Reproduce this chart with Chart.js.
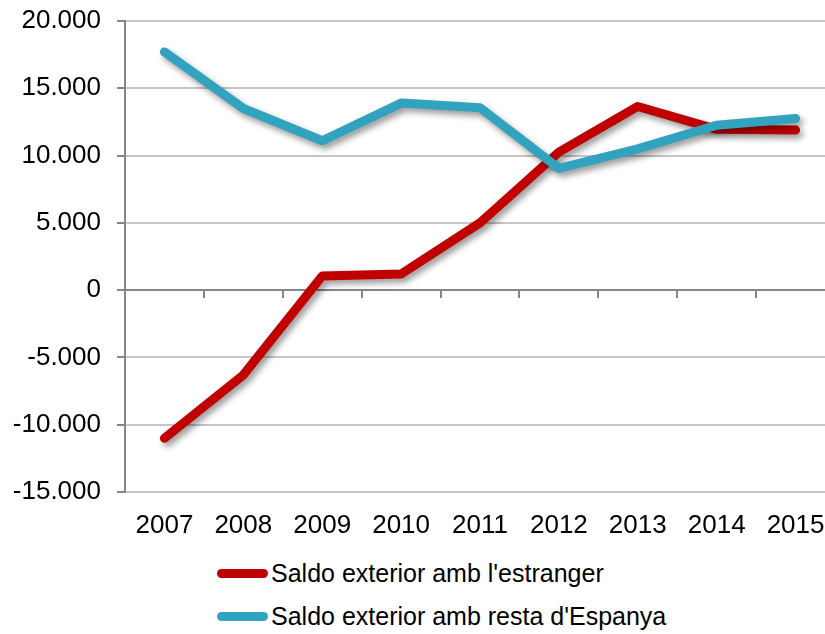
<!DOCTYPE html>
<html>
<head>
<meta charset="utf-8">
<script src="https://cdn.jsdelivr.net/npm/chart.js@4.4.1/dist/chart.umd.min.js"></script>
<style>
  html, body { margin: 0; padding: 0; background: #fff; overflow: hidden; }
  #wrap { position: relative; width: 825px; height: 634px; overflow: hidden; }
  #chart { position: absolute; left: 0; top: 0; }
  #legend { position: absolute; left: 217px; top: 552px; font-family: "Liberation Sans", Arial, sans-serif; font-size: 25px; color: #000; }
  .item { display: flex; align-items: center; height: 43px; white-space: nowrap; }
  .swatch { width: 51px; height: 9px; border-radius: 5px; margin-right: 3px; }
</style>
</head>
<body>
<div id="wrap">
  <canvas id="chart" width="840" height="545"></canvas>
  <div id="legend"></div>
</div>
<script>
const years = ["2007", "2008", "2009", "2010", "2011", "2012", "2013", "2014", "2015"];
const saldoEstranger = [-11000, -6300, 1050, 1200, 5000, 10250, 13650, 11950, 11900];
const saldoEspanya = [17700, 13500, 11100, 13900, 13550, 9050, 10500, 12250, 12750];
const seriesNames = ["Saldo exterior amb l'estranger", "Saldo exterior amb resta d'Espanya"];
const seriesColors = ["#c00000", "#31a3bf"];

function formatThousands(v) {
    const s = Math.abs(v).toString().replace(/\B(?=(\d{3})+(?!\d))/g, ".");
    return (v < 0 ? "-" : "") + s;
}

// soft drop shadow under the lines, like the original
const shadowPlugin = {
    id: "lineShadow",
    beforeDatasetDraw(chart) {
        const ctx = chart.ctx;
        ctx.save();
        ctx.shadowColor = "rgba(0,0,0,0.4)";
        ctx.shadowBlur = 6;
        ctx.shadowOffsetX = 3;
        ctx.shadowOffsetY = 4;
    },
    afterDatasetDraw(chart) {
        chart.ctx.restore();
    }
};

const font = { family: "'Liberation Sans', Arial, sans-serif", size: 26 };

new Chart(document.getElementById("chart"), {
    type: "line",
    data: {
        labels: years,
        datasets: [{
            label: seriesNames[0],
            data: saldoEstranger,
            borderColor: seriesColors[0],
            borderWidth: 9,
            order: 2
        }, {
            label: seriesNames[1],
            data: saldoEspanya,
            borderColor: seriesColors[1],
            borderWidth: 9,
            order: 1
        }]
    },
    options: {
        responsive: false,
        animation: false,
        events: [],
        layout: { padding: { top: 21, right: 5, left: 0, bottom: 0 } },
        elements: {
            point: { radius: 0 },
            line: { tension: 0, borderJoinStyle: "round", borderCapStyle: "round" }
        },
        plugins: {
            legend: { display: false },
            tooltip: { enabled: false }
        },
        scales: {
            x: {
                offset: true,
                grid: { display: false, offset: true },
                border: { display: false },
                ticks: { color: "#000", font: font, padding: 10, maxRotation: 0, autoSkip: false },
                afterFit(scale) { scale.height = 53; }
            },
            x2: {
                type: "category",
                position: { y: 0 },
                offset: true,
                grid: { offset: true, drawOnChartArea: false, drawTicks: true, tickLength: 7, color: "#868686", lineWidth: 2 },
                border: { color: "#868686", width: 2 },
                ticks: { display: false }
            },
            y: {
                min: -15000,
                max: 20000,
                grid: { color: "#c6c6c6", lineWidth: 2, tickLength: 8, tickColor: "#868686" },
                border: { color: "#868686", width: 2 },
                ticks: {
                    stepSize: 5000,
                    color: "#000",
                    font: font,
                    padding: 16,
                    callback: (v) => formatThousands(v)
                },
                afterFit(scale) {
                    scale.width = 125;
                    scale.paddingTop = 0;
                    scale.paddingBottom = 0;
                }
            }
        }
    },
    plugins: [shadowPlugin]
});

const legend = document.getElementById("legend");
seriesNames.forEach((name, i) => {
    legend.insertAdjacentHTML("beforeend",
        "<div class=\"item\"><span class=\"swatch\" style=\"background:" + seriesColors[i] + "\"></span>" + name + "</div>");
});
</script>
</body>
</html>
